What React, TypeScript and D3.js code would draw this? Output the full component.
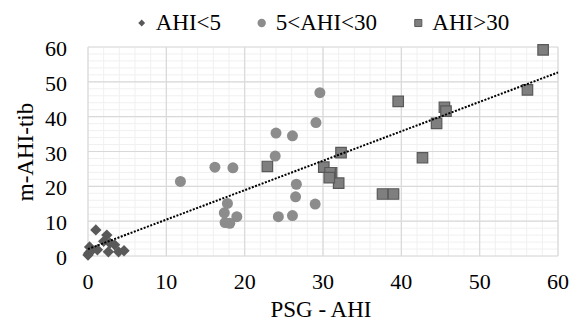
import { useEffect, useRef } from "react";
import * as d3 from "d3";

// AHI<5 (diamonds): [PSG-AHI, m-AHI-tib]
const lowAhi: [number, number][] = [
  [1.0, 7.5], [2.4, 6.0], [2.0, 4.2], [2.8, 3.7], [3.4, 3.2], [2.6, 1.2],
  [3.9, 1.2], [4.6, 1.5], [0.2, 2.6], [0.4, 1.5], [0.1, 0.8], [0.0, 0.3], [1.2, 1.8],
];

// 5<AHI<30 (circles)
const midAhi: [number, number][] = [
  [29.6, 46.9], [29.1, 38.3], [24.0, 35.3], [26.1, 34.5], [23.9, 28.7], [16.2, 25.5],
  [18.5, 25.3], [11.8, 21.4], [26.6, 20.6], [26.5, 17.0], [29.0, 14.9], [17.8, 15.1],
  [17.4, 12.4], [19.0, 11.3], [17.5, 9.6], [18.1, 9.4], [24.3, 11.3], [26.1, 11.6],
];

// AHI>30 (squares)
const highAhi: [number, number][] = [
  [58.1, 59.2], [56.1, 47.7], [39.6, 44.4], [45.5, 42.7], [45.7, 41.6], [44.5, 38.1],
  [32.3, 29.7], [42.7, 28.2], [31.1, 23.9], [32.0, 20.9], [37.6, 17.8], [39.0, 17.8],
  [22.9, 25.7], [30.1, 25.5], [30.9, 23.9], [30.8, 22.5],
];

const ticks = [0, 10, 20, 30, 40, 50, 60];
const minorTicks = d3.range(0, 61, 2);
const trend = { slope: 0.845, intercept: 2.0 };
const legendLabels = ["AHI<5", "5<AHI<30", "AHI>30"];

export default function App() {
  const ref = useRef<SVGSVGElement>(null);

  useEffect(() => {
    const svg = d3.select(ref.current);
    svg.selectAll("*").remove();

    const x = d3.scaleLinear().domain([0, 60]).range([88, 558]);
    const y = d3.scaleLinear().domain([0, 60]).range([256, 47]);
    const font = "Liberation Serif, Times New Roman, DejaVu Serif, serif";

    svg.append("rect").attr("width", 582).attr("height", 335).attr("fill", "#fff");

    // minor grid
    const grid = svg.append("g");
    grid.selectAll("line.mx").data(minorTicks).join("line")
      .attr("x1", (d) => x(d)).attr("x2", (d) => x(d))
      .attr("y1", y(0)).attr("y2", y(60))
      .attr("stroke", "#f0f0f0").attr("stroke-width", 1);
    grid.selectAll("line.my").data(minorTicks).join("line")
      .attr("x1", x(0)).attr("x2", x(60))
      .attr("y1", (d) => y(d)).attr("y2", (d) => y(d))
      .attr("stroke", "#f0f0f0").attr("stroke-width", 1);
    // major grid
    const major = svg.append("g");
    major.selectAll("line.vx").data(ticks).join("line")
      .attr("x1", (d) => x(d)).attr("x2", (d) => x(d))
      .attr("y1", y(0)).attr("y2", y(60))
      .attr("stroke", "#d9d9d9").attr("stroke-width", 1.2);
    major.selectAll("line.hy").data(ticks).join("line")
      .attr("x1", x(0)).attr("x2", x(60))
      .attr("y1", (d) => y(d)).attr("y2", (d) => y(d))
      .attr("stroke", "#d9d9d9").attr("stroke-width", 1.2);

    // tick labels
    svg.append("g").selectAll("text").data(ticks).join("text")
      .attr("x", (d) => x(d)).attr("y", 289)
      .attr("text-anchor", "middle")
      .style("font-family", font).attr("font-size", 22).attr("fill", "#000")
      .text((d) => d);
    svg.append("g").selectAll("text").data(ticks).join("text")
      .attr("x", 67).attr("y", (d) => y(d) + 9)
      .attr("text-anchor", "end")
      .style("font-family", font).attr("font-size", 22).attr("fill", "#000")
      .text((d) => d);

    // axis titles
    svg.append("text").attr("x", 321).attr("y", 317)
      .attr("text-anchor", "middle").style("font-family", font).attr("font-size", 23)
      .text("PSG - AHI");
    svg.append("text")
      .attr("transform", `translate(33,152) rotate(-90)`)
      .attr("text-anchor", "middle").style("font-family", font).attr("font-size", 23)
      .text("m-AHI-tib");

    const diamond = d3.symbol().type(d3.symbolDiamond2).size(82);
    const square = d3.symbol().type(d3.symbolSquare).size(110);

    // circles
    svg.append("g").selectAll("circle").data(midAhi).join("circle")
      .attr("cx", (d) => x(d[0])).attr("cy", (d) => y(d[1])).attr("r", 5.5)
      .attr("fill", "#8c8c8c");

    // squares
    svg.append("g").selectAll("path").data(highAhi).join("path")
      .attr("d", square)
      .attr("transform", (d) => `translate(${x(d[0])},${y(d[1])})`)
      .attr("fill", "#7f7f7f").attr("stroke", "#595959").attr("stroke-width", 1.2);

    // diamonds
    svg.append("g").selectAll("path").data(lowAhi).join("path")
      .attr("d", diamond)
      .attr("transform", (d) => `translate(${x(d[0])},${y(d[1])})`)
      .attr("fill", "#595959");

    // trendline
    svg.append("line")
      .attr("x1", x(0)).attr("y1", y(trend.intercept))
      .attr("x2", x(60)).attr("y2", y(trend.intercept + trend.slope * 60))
      .attr("stroke", "#000").attr("stroke-width", 2).attr("stroke-dasharray", "2,1.5");

    // legend
    const lx = [141.7, 261.7, 418.3];
    const ly = 23;
    const leg = svg.append("g");
    leg.append("path").attr("d", d3.symbol().type(d3.symbolDiamond2).size(30)())
      .attr("transform", `translate(${lx[0]},${ly})`).attr("fill", "#595959");
    leg.append("circle").attr("cx", lx[1]).attr("cy", ly).attr("r", 4.2).attr("fill", "#8c8c8c");
    leg.append("path").attr("d", d3.symbol().type(d3.symbolSquare).size(50)())
      .attr("transform", `translate(${lx[2]},${ly})`).attr("fill", "#7f7f7f")
      .attr("stroke", "#595959").attr("stroke-width", 1);
    leg.selectAll("text").data(legendLabels).join("text")
      .attr("x", (_, i) => lx[i] + 14).attr("y", 30)
      .style("font-family", font).attr("font-size", 23).attr("fill", "#000")
      .text((d) => d);
  }, []);

  return (
    <svg ref={ref} width={582} height={335}
      style={{ position: "absolute", left: 0, top: 0, display: "block" }} />
  );
}
